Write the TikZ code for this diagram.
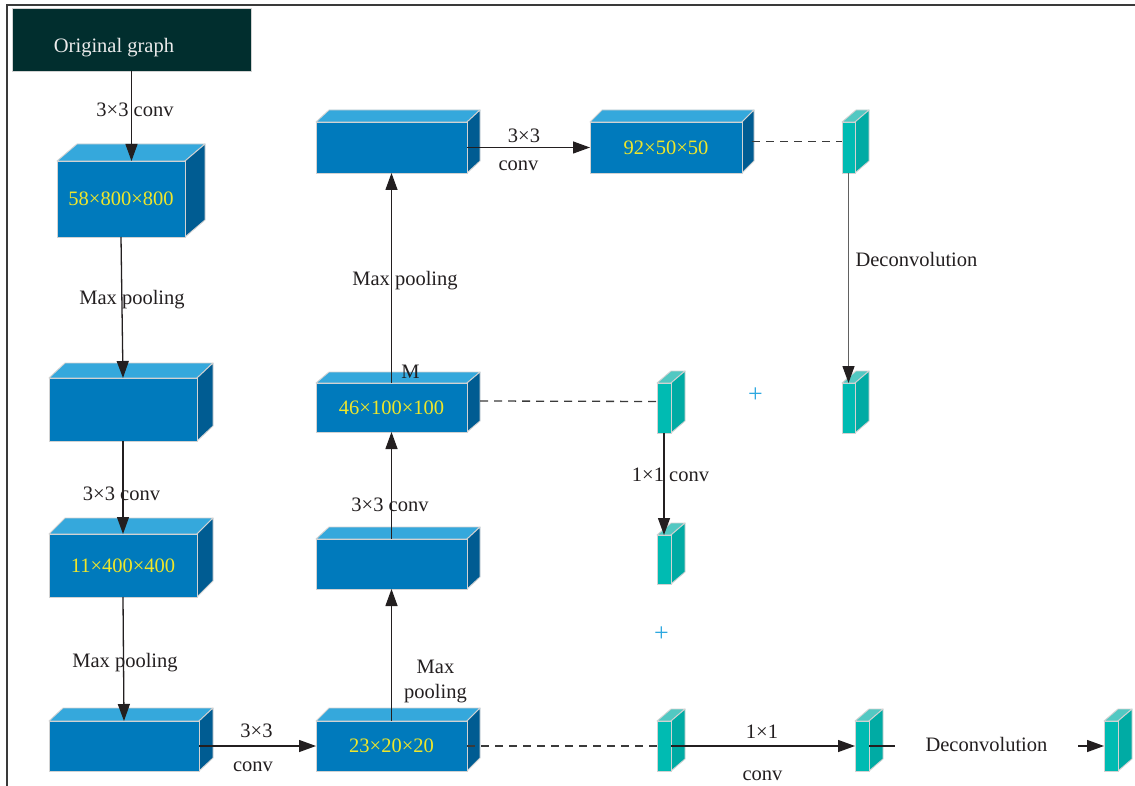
\documentclass[tikz,border=0pt]{standalone}
\usepackage{fontspec}
\setmainfont{Liberation Serif}
\usetikzlibrary{arrows.meta}
\definecolor{frontB}{HTML}{007ABC}
\definecolor{topB}{HTML}{35A8DC}
\definecolor{sideB}{HTML}{005C92}
\definecolor{frontT}{HTML}{00BBB2}
\definecolor{topT}{HTML}{52C8C2}
\definecolor{sideT}{HTML}{00ABA4}
\definecolor{edge}{HTML}{D2D2D2}
\definecolor{hdrfill}{HTML}{012E2E}
\definecolor{ink}{HTML}{231F20}
\definecolor{boxtxt}{HTML}{EFE62A}
\definecolor{plusc}{HTML}{2DA8E0}
\definecolor{frame}{HTML}{3A3A3A}
\tikzset{
  face/.style={draw=edge, line width=0.9pt, inner sep=0pt, outer sep=0pt, text=boxtxt,
    font=\fontsize{20.5pt}{24pt}\selectfont},
  lbl/.style={text=ink, inner sep=0pt, anchor=base, font=\fontsize{20.5pt}{24pt}\selectfont},
  arr/.style={draw=ink, line width=1.3pt, -{Triangle[length=17pt,width=12pt,color=ink]}},
  dsh/.style={draw=frame, line width=1.3pt, dash pattern=on 8pt off 6pt},
  plus/.style={text=plusc, inner sep=0pt, font=\fontsize{26pt}{28pt}\selectfont},
}
% #1 name, #2 L, #3 T, #4 R, #5 B, #6 dx, #7 dy, #8 colour set (B/T), #9 text
\newcommand\cuboid[9]{%
  \filldraw[draw=edge, fill=top#8, line width=0.9pt, line join=round]
    (#2,#3) -- ({#2+#6},{#3-#7}) -- ({#4+#6},{#3-#7}) -- (#4,#3) -- cycle;
  \filldraw[draw=edge, fill=side#8, line width=0.9pt, line join=round]
    (#4,#3) -- ({#4+#6},{#3-#7}) -- ({#4+#6},{#5-#7}) -- (#4,#5) -- cycle;
  \node[face, fill=front#8, minimum width={(#4-#2)*1pt}, minimum height={(#5-#3)*1pt}]
    (#1) at ({(#2+#4)/2},{(#3+#5)/2}) {#9};
}
\begin{document}
\begin{tikzpicture}[x=1pt,y=-1pt]
\useasboundingbox (0,0) rectangle (1135,786);
% frame
\draw[frame, line width=1.5pt] (7,786) -- (7,5) -- (1135,5);
% header
\node[draw=edge, fill=hdrfill, line width=0.9pt, inner sep=0pt, outer sep=0pt,
      minimum width=239pt, minimum height=63pt] (hdr) at (131.5,39.5) {};
\node[lbl, text=white!92!black] (hdrtxt) at (114,53) {Original graph};
% left column
\cuboid{b1}{57}{161}{185}{237}{20}{17}{B}{58×800×800}
\cuboid{b2}{49}{378}{197}{441}{16}{15}{B}{}
\cuboid{b3}{49}{534}{197}{597}{16}{16}{B}{11×400×400}
\cuboid{b4}{49}{721}{199}{771}{14}{13}{B}{}
% middle column
\cuboid{m5}{316}{721}{467}{771}{13}{13}{B}{23×20×20}
\cuboid{m4}{316}{539}{467}{589}{13}{12}{B}{}
\cuboid{m3}{316}{383}{467}{432}{13}{11}{B}{46×100×100}
\cuboid{m2}{316}{122}{467}{173}{13}{12}{B}{}
\cuboid{r1}{590}{122}{742}{173}{12}{12}{B}{92×50×50}
% teal blocks
\cuboid{t1}{842}{122}{855}{173}{14}{12}{T}{}
\cuboid{t2}{842}{383}{855}{433}{14}{12}{T}{}
\cuboid{t3}{657}{383}{671}{433}{14}{12}{T}{}
\cuboid{t4}{657}{535}{671}{584}{14}{12}{T}{}
\cuboid{t5}{657}{721}{671}{771}{14}{12}{T}{}
\cuboid{t6}{855}{721}{869}{771}{14}{12}{T}{}
\cuboid{t7}{1104}{721}{1118}{771}{14}{12}{T}{}
% connectors
\draw[arr] (hdr.south) -- (hdr.south |- b1.north);
\draw[arr] (b1.south) -- (b2.north);
\draw[arr] (b2.south) -- (b3.north);
\draw[arr] (b3.south) -- (b4.north);
\draw[arr] (b4.east) -- (m5.west);
\draw[arr] (m5.north) -- (m4.south);
\draw[arr] (m4.north) -- (m3.south);
\draw[arr] (m3.north) -- (m2.south);
\draw[arr] (m2.east) -- (r1.west);
\draw[dsh] ([shift={(10pt,6pt)}]r1.east) -- ([yshift=6pt]t1.west);
\draw[arr, draw=black!62] (t1.south) -- (t2.north);
\draw[dsh] ([shift={(13pt,6.5pt)}]m3.east) -- ([yshift=6.5pt]t3.west);
\draw[arr] (t3.south) -- (t4.north);
\draw[dsh] (m5.east) -- (t5.west);
\draw[arr] (t5.east) -- (t6.west);
\draw[arr] (t6.east) -- (t7.west);
% labels
\node[lbl] (l1) at (135,117) {3×3 conv};
\node[lbl] (l2) at (132,305) {Max pooling};
\node[lbl] (l3) at (121.5,500) {3×3 conv};
\node[lbl] (l4) at (125,667) {Max pooling};
\node[lbl] (l5) at (256.5,737) {3×3};
\node[lbl] (l6) at (253,771) {conv};
\node[lbl] (l7) at (435.5,673) {Max};
\node[lbl] (l8) at (435.5,698) {pooling};
\node[lbl] (l9) at (390,511) {3×3 conv};
\node[lbl] (l10) at (410.5,378) {M};
\node[lbl] (l11) at (405,286) {Max pooling};
\node[lbl] (l12) at (524,143) {3×3};
\node[lbl] (l13) at (518.5,171) {conv};
\node[lbl] (l14) at (916.5,267) {Deconvolution};
\node[lbl] (l15) at (670.5,481) {1×1 conv};
\node[lbl] (l16) at (762,738) {1×1};
\node[lbl] (l17) at (762.5,780) {conv};
\node[lbl, fill=white, inner xsep=31pt, inner ysep=3pt] (l18) at (986.5,751) {Deconvolution};
\node[plus] (p1) at (755.5,395) {+};
\node[plus] (p2) at (661.5,634.5) {+};
\end{tikzpicture}
\end{document}
